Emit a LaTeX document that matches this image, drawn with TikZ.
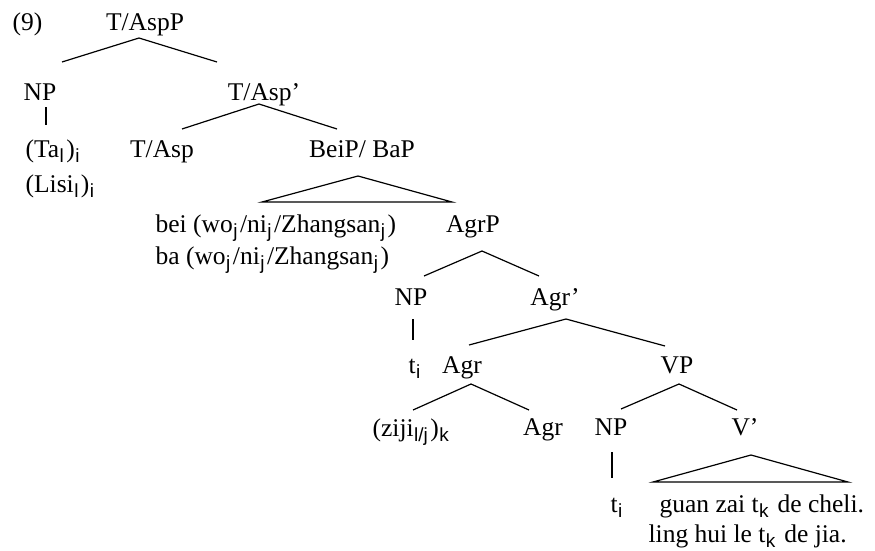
\documentclass[tikz,border=0pt]{standalone}
\usepackage{fontspec}
\setmainfont{Liberation Serif}
\setsansfont{Liberation Sans}
\usetikzlibrary{calc}
\newcommand{\sbx}[1]{\kern0.5pt\raisebox{-5pt}{\fontsize{19}{20}\selectfont\sffamily #1}\kern2.5pt\relax}
\tikzstyle{lbl}=[inner sep=0pt,anchor=base]
\tikzstyle{lbw}=[inner sep=0pt,anchor=base west]
\tikzstyle{branch}=[line width=1.2pt]

\begin{document}
\begin{tikzpicture}[x=1pt,y=-1pt,font=\fontsize{25.5}{30}\selectfont,branch]
\useasboundingbox (0,0) rectangle (875,551);
\node[lbw] (ex) at (12,31) {(9)};
\node[lbl] (TP) at (145,31) {T/AspP};
\node[lbl] (NPa) at (40,100) {NP};
\node[lbl] (TB) at (264,100) {T/Asp'};
\node[lbw] (Ta) at (25,157) {(Ta\sbx{l})\sbx{i}};
\node[lbw] (Lisi) at (25,192) {(Lisi\sbx{l})\sbx{i}};
\node[lbl] (T) at (162,157) {T/Asp};
\node[lbl] (Bei) at (362,157) {BeiP/ BaP};
\node[lbw] (bei) at (155,232) {bei (wo\sbx{j}/ni\sbx{j}/Zhangsan\sbx{j})};
\node[lbw] (ba) at (155,264) {ba (wo\sbx{j}/ni\sbx{j}/Zhangsan\sbx{j})};
\node[lbl] (AgrP) at (473,232) {AgrP};
\node[lbl] (NPb) at (411,305) {NP};
\node[lbl] (AB) at (555,305) {Agr'};
\node[lbw] (ta) at (408,373) {t\sbx{i}};
\node[lbl] (Agr) at (462,373) {Agr};
\node[lbl] (VP) at (677,373) {VP};
\node[inner sep=0pt,anchor=base east] (ziji) at (452,436) {(ziji\sbx{l/j})\sbx{k}};
\node[lbl] (Agrb) at (543,435) {Agr};
\node[lbl] (NPc) at (611,435) {NP};
\node[lbl] (VB) at (745,435) {V'};
\node[lbw] (tb) at (610,512) {t\sbx{i}};
\node[lbw] (guan) at (659,512) {guan zai t\sbx{k} de cheli.};
\node[lbw] (ling) at (648,542) {ling hui le t\sbx{k} de jia.};
% branches
\draw ($(NPa.base)+(22,-38)$)--($(TP.base)+(-6,7)$)--($(TB.base)+(-47,-38)$);
\draw ($(NPa.base)+(6,7)$)--($(Ta.base west)+(21,-32)$);
\draw ($(T.base)+(20,-28)$)--($(TB.base)+(-5,4)$)--($(Bei.base)+(-25,-28)$);
\draw ($(Bei.base)+(-4,19)$)--++(-96,26)--++(190,0)--cycle;
\draw ($(NPb.base)+(13,-29)$)--($(AgrP.base)+(9,19)$)--($(AB.base)+(-16,-29)$);
\draw ($(NPb.base)+(2,14)$)--($(ta.base west)+(5,-33)$);
\draw ($(Agr.base)+(7,-28)$)--($(AB.base)+(11,14)$)--($(VP.base)+(-12,-27)$);
\draw ($(ziji.base east)+(-39,-26)$)--($(Agr.base)+(9,11)$)--($(Agrb.base)+(-14,-25)$);
\draw ($(NPc.base)+(10,-26)$)--($(VP.base)+(2,11)$)--($(VB.base)+(-8,-25)$);
\draw ($(NPc.base)+(1,17)$)--($(tb.base west)+(2,-34)$);
\draw ($(VB.base)+(6,20)$)--++(-98,27)--++(195,0)--cycle;
\end{tikzpicture}
\end{document}
